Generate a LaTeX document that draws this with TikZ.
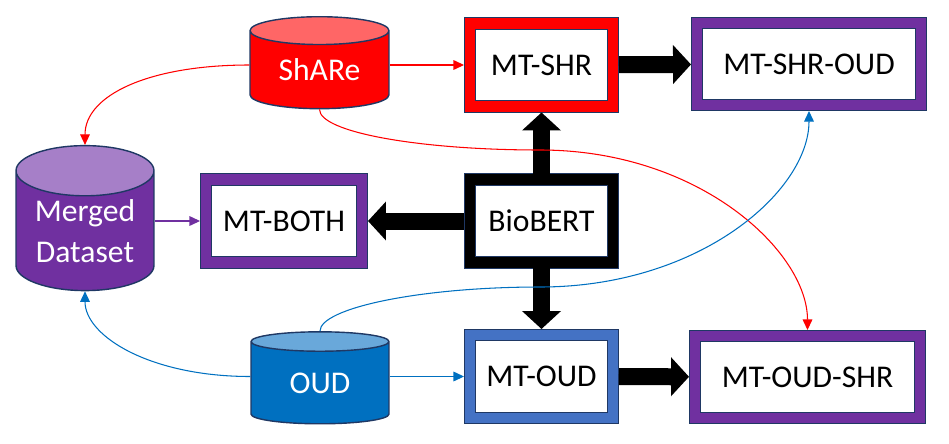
\documentclass[tikz,border=0pt]{standalone}
\usepackage{fontspec}
\setmainfont{Carlito}
\usepackage{tikz}
\usetikzlibrary{arrows.meta,shapes.geometric}
\usepackage{xcolor}

\definecolor{edgenavy}{HTML}{1F3864}
\definecolor{sharered}{HTML}{FF0000}
\definecolor{sharetop}{HTML}{FF6666}
\definecolor{mergedpurple}{HTML}{7030A0}
\definecolor{mergedtop}{HTML}{A67FC8}
\definecolor{oudblue}{HTML}{0070C0}
\definecolor{oudtop}{HTML}{69A8DA}
\definecolor{mtoudblue}{HTML}{4472C4}

\tikzset{
  txt/.style={font=\fontsize{18}{23}\selectfont},
  dbcyl/.style 2 args={shape=cylinder, shape border rotate=90, draw=edgenavy,
    line width=0.8pt, cylinder uses custom fill, cylinder body fill=#1,
    cylinder end fill=#2, text=white, txt, align=center, inner sep=0pt},
  mtbox/.style={draw=edgenavy, line width=0.5pt, double=#1,
    double distance=0.21cm, fill=white, inner sep=0pt, outer sep=0.12cm,
    minimum width=2.86cm, minimum height=1.66cm, txt},
  bigarrow/.style={line width=0.34cm, -{Triangle[width=0.76cm,length=0.36cm]}},
  thinarrow/.style={line width=0.6pt, -{Triangle[width=5.5pt,length=6pt]}}
}

\begin{document}
\begin{tikzpicture}[x=0.02cm,y=-0.02cm]

  \useasboundingbox (0,0) rectangle (949,443);

  %----------------------------------------
  % Datasets
  %----------------------------------------
  \node[dbcyl={sharered}{sharetop}, minimum width=2.78cm, minimum height=1.84cm, aspect=0.34]
    (share) at (319.5,70) {ShARe};
  \node[dbcyl={mergedpurple}{mergedtop}, minimum width=2.76cm, minimum height=2.9cm, aspect=0.5]
    (merged) at (85,231) {Merged\\Dataset};
  \node[dbcyl={oudblue}{oudtop}, minimum width=2.76cm, minimum height=1.84cm, aspect=0.32]
    (oud) at (320,383) {OUD};

  %----------------------------------------
  % Models
  %----------------------------------------
  \node[mtbox=sharered] (mtshr) at (541.5,65) {MT-SHR};
  \node[mtbox=black] (biobert) at (541.5,221) {BioBERT};
  \node[mtbox=mtoudblue] (mtoud) at (541.5,376.5) {MT-OUD};
  \node[mtbox=mergedpurple, minimum width=3.12cm] (mtboth) at (284,221) {MT-BOTH};
  \node[mtbox=mergedpurple, minimum width=4.48cm, minimum height=1.64cm]
    (mtshroud) at (809,64) {MT-SHR-OUD};
  \node[mtbox=mergedpurple, minimum width=4.5cm, minimum height=1.64cm]
    (mtoudshr) at (807.5,377) {MT-OUD-SHR};

  %----------------------------------------
  % Fine-tuning (block arrows)
  %----------------------------------------
  \draw[bigarrow] (biobert) -- (mtshr);
  \draw[bigarrow] (biobert) -- (mtoud);
  \draw[bigarrow] (biobert) -- (mtboth);
  \draw[bigarrow] (mtshr) -- (mtshroud);
  \draw[bigarrow] (mtoud) -- (mtoudshr);

  %----------------------------------------
  % Data flow
  %----------------------------------------
  \coordinate (redmid) at (540,150);
  \coordinate (bluemid) at (540,287);

  \draw[thinarrow, sharered] (share.east |- mtshr.west) -- (mtshr.west);
  \draw[thinarrow, sharered] (share.west |- mtshr.west) .. controls +(-100,0) and +(0,-50) .. (merged.north);
  \draw[thinarrow, sharered] (share.south) .. controls +(0,23) and +(-120,0) .. (redmid)
    .. controls +(160,0) and +(0,-78) .. (mtoudshr.north);

  \draw[thinarrow, oudblue] (oud.east |- mtoud.west) -- (mtoud.west);
  \draw[thinarrow, oudblue] (oud.west |- mtoud.west) .. controls +(-100,0) and +(0,45) .. (merged.south);
  \draw[thinarrow, oudblue] (oud.north) .. controls +(0,-23) and +(-120,0) .. (bluemid)
    .. controls +(160,0) and +(0,80) .. (mtshroud.south);

  \draw[thinarrow, mergedpurple] (merged.east |- mtboth.west) -- (mtboth.west);

\end{tikzpicture}
\end{document}
